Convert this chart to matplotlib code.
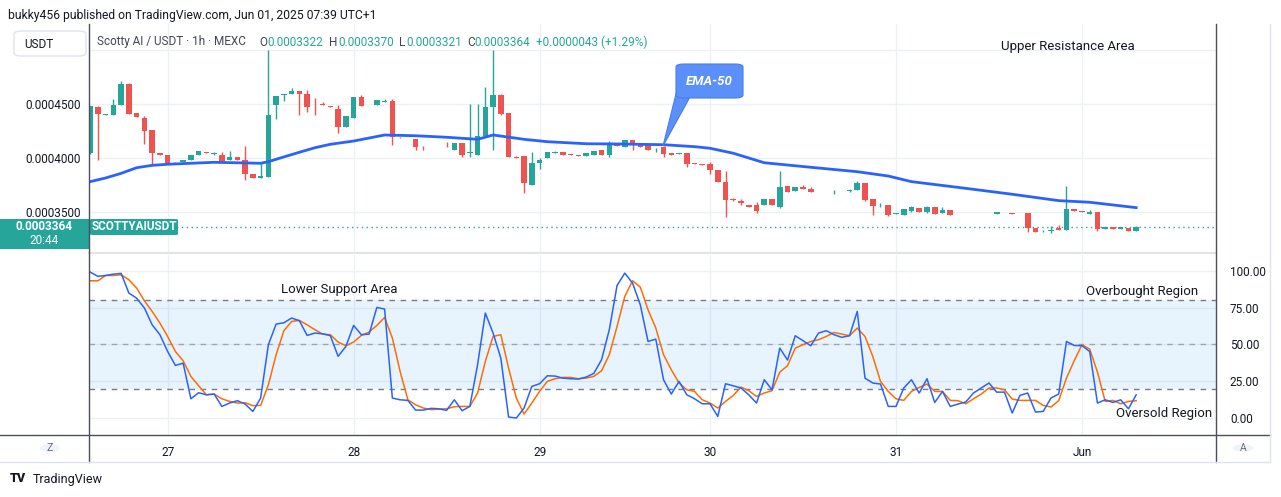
import matplotlib
matplotlib.use('Agg')
import matplotlib.pyplot as plt
from matplotlib.patches import Rectangle, FancyBboxPatch, Polygon, Circle
from matplotlib.lines import Line2D
import numpy as np

plt.rcParams['font.family'] = ['Roboto', 'DejaVu Sans']

# 1h candles, prices in units of 1e-7 USDT
opens = [4046, 4475, 4401, 4395, 4488, 4688, 4420, 4373, 4262, 4049,
         4031, 3944, 3960, 3985, 4025, 4056, 4040, 4031, 3978, 4012,
         3985, 3855, 3815, 3821, 4488, 4583, 4596, 4623, 4596, 4512,
         4500, 4485, 4457, 4290, 4370, 4568, 4497, 4494, 4515, 4531,
         4188, 4188, 4176, 4102, 4099, 4099, 4102, 4077, 4142, 4046,
         4031, 4207, 4469, 4586, 4420, 4006, 4021, 3753, 3950, 4000,
         4049, 4052, 4034, 4031, 4018, 4031, 4077, 4031, 4117, 4102,
         4170, 4133, 4123, 4090, 4099, 4049, 4034, 4049, 3951, 3941,
         3941, 3886, 3781, 3617, 3605, 3565, 3568, 3568, 3623, 3543,
         3744, 3691, 3735, 3716, 3691, 3701, 3701, 3704, 3698, 3701,
         3772, 3623, 3565, 3568, 3485, 3475, 3512, 3537, 3500, 3549,
         3488, 3521, 3488, 3488, 3491, 3485, 3485, 3478, 3488, 3491,
         3488, 3494, 3355, 3315, 3327, 3349, 3330, 3531, 3512, 3478,
         3503, 3340, 3358, 3346, 3355, 3322]
highs = [4480, 4478, 4410, 4546, 4710, 4690, 4420, 4392, 4262, 4049,
         4031, 3963, 3985, 4031, 4068, 4056, 4056, 4056, 4062, 4012,
         4108, 3855, 3954, 5000, 4577, 4596, 4648, 4623, 4632, 4555,
         4518, 4485, 4494, 4392, 4568, 4586, 4500, 4540, 4549, 4549,
         4194, 4188, 4176, 4114, 4102, 4102, 4148, 4142, 4142, 4500,
         4500, 4660, 5003, 4592, 4420, 4015, 4021, 4052, 4000, 4056,
         4068, 4052, 4034, 4031, 4049, 4068, 4077, 4160, 4120, 4170,
         4170, 4133, 4133, 4093, 4108, 4049, 4049, 4049, 3951, 3941,
         3960, 3886, 3877, 3633, 3620, 3565, 3596, 3623, 3623, 3877,
         3744, 3735, 3753, 3735, 3694, 3704, 3704, 3704, 3710, 3790,
         3772, 3623, 3583, 3568, 3488, 3531, 3559, 3537, 3559, 3549,
         3549, 3521, 3491, 3491, 3491, 3485, 3485, 3497, 3491, 3491,
         3491, 3494, 3355, 3333, 3367, 3380, 3738, 3531, 3512, 3515,
         3503, 3358, 3358, 3358, 3355, 3370]
lows = [4040, 3985, 4398, 4395, 4488, 4411, 4377, 4133, 3932, 4025,
        3944, 3941, 3960, 3985, 4025, 4043, 4031, 3963, 3978, 3978,
        3800, 3815, 3815, 3821, 4364, 4525, 4596, 4395, 4423, 4395,
        4488, 4469, 4228, 4290, 4370, 4485, 4497, 4494, 4515, 4124,
        4185, 4185, 4077, 4071, 4099, 4099, 4099, 4077, 4012, 4006,
        4031, 4207, 4077, 4395, 4006, 4000, 3673, 3747, 3901, 4000,
        4049, 4025, 4031, 4015, 4018, 4031, 4025, 4006, 4111, 4102,
        4077, 4099, 4077, 4056, 4009, 4025, 4034, 3914, 3945, 3935,
        3855, 3775, 3451, 3599, 3568, 3549, 3488, 3568, 3562, 3534,
        3682, 3691, 3710, 3688, 3691, 3701, 3667, 3701, 3688, 3701,
        3605, 3475, 3543, 3460, 3485, 3475, 3497, 3503, 3494, 3485,
        3488, 3475, 3488, 3488, 3488, 3482, 3482, 3478, 3488, 3478,
        3488, 3312, 3312, 3315, 3306, 3330, 3330, 3506, 3503, 3478,
        3324, 3340, 3340, 3346, 3321, 3321]
closes = [4478, 4407, 4407, 4494, 4688, 4411, 4377, 4253, 4043, 4025,
          3944, 3957, 3985, 4031, 4062, 4043, 4046, 3975, 4012, 3978,
          3852, 3815, 3836, 4401, 4577, 4590, 4623, 4596, 4469, 4506,
          4488, 4469, 4290, 4392, 4568, 4485, 4500, 4540, 4531, 4191,
          4185, 4185, 4099, 4099, 4102, 4102, 4099, 4142, 4031, 4052,
          4207, 4475, 4586, 4411, 4006, 4000, 3765, 3957, 3985, 4056,
          4052, 4025, 4031, 4015, 4043, 4068, 4025, 4130, 4111, 4164,
          4123, 4099, 4077, 4093, 4040, 4025, 4049, 3941, 3945, 3935,
          3886, 3775, 3608, 3611, 3580, 3549, 3506, 3623, 3562, 3735,
          3682, 3735, 3710, 3688, 3694, 3704, 3704, 3701, 3701, 3772,
          3614, 3559, 3568, 3475, 3488, 3531, 3549, 3503, 3549, 3485,
          3518, 3475, 3491, 3491, 3488, 3482, 3482, 3497, 3491, 3478,
          3491, 3352, 3312, 3318, 3330, 3330, 3531, 3506, 3503, 3497,
          3340, 3358, 3340, 3358, 3321, 3364]

# EMA-50 read at selected bars (1e-7 USDT)
ema_bars = [0, 2, 4, 6, 8, 10, 16, 22, 23, 25, 27, 29, 31, 34, 38, 42, 46, 50, 52, 56,
            59, 64, 68, 74, 78, 80, 83, 87, 93, 99, 103, 106, 113, 119, 125, 129, 135]
ema_vals = [3781, 3815, 3858, 3910, 3932, 3942, 3960, 3951, 3966, 4010, 4053, 4095,
            4127, 4157, 4213, 4206, 4192, 4173, 4213, 4173, 4151, 4132, 4130, 4123,
            4105, 4090, 4044, 3956, 3914, 3873, 3833, 3781, 3719, 3664, 3605, 3590, 3540]

# Stochastic RSI %K and %D
stoch_k = [99.1, 96.2, 96.8, 97.7, 98.2, 84.8, 81.4, 74.7, 63.3, 56.6,
           45.2, 35.7, 37.3, 13.1, 17.2, 15.8, 16.3, 7.9, 10.2, 11.8,
           9.5, 4.5, 13.6, 49.8, 63.8, 64.7, 67.9, 66.1, 56.1, 57.7,
           57.2, 55.9, 41.9, 48.6, 62.9, 56.6, 57.0, 75.1, 74.0, 13.6,
           12.4, 12.0, 5.4, 5.4, 6.6, 6.3, 5.2, 12.4, 5.0, 7.9,
           36.2, 71.3, 57.7, 40.7, 0.7, 0.0, 6.8, 21.5, 23.3, 28.7,
           28.5, 27.1, 26.7, 26.5, 27.8, 30.3, 39.6, 60.0, 90.0, 98.4,
           91.6, 76.9, 52.0, 53.6, 26.0, 16.3, 24.9, 15.8, 13.1, 9.7,
           9.7, 1.1, 23.3, 21.9, 20.4, 15.8, 10.2, 26.0, 19.2, 47.5,
           39.4, 55.9, 52.5, 49.1, 57.7, 59.3, 56.6, 54.8, 55.9, 72.4,
           27.1, 23.8, 23.1, 7.9, 7.9, 20.4, 26.0, 17.0, 26.7, 10.6,
           18.1, 7.9, 9.5, 10.9, 17.0, 20.4, 23.8, 17.6, 17.6, 3.4,
           15.4, 17.0, 4.1, 4.5, 13.6, 16.3, 52.0, 49.3, 49.1, 45.2,
           10.2, 12.4, 10.6, 12.4, 6.3, 15.8]
stoch_d = [93.2, 93.2, 96.8, 96.8, 97.3, 93.9, 88.2, 79.6, 72.4, 64.5,
           55.4, 45.2, 38.9, 28.3, 21.9, 15.8, 16.3, 13.1, 11.3, 10.2,
           10.4, 8.4, 8.6, 22.6, 43.0, 59.3, 65.6, 66.3, 63.3, 60.0,
           57.0, 56.6, 51.6, 49.1, 51.6, 56.1, 58.4, 62.9, 68.3, 54.3,
           31.7, 12.4, 9.0, 6.8, 5.7, 6.1, 6.3, 7.7, 7.9, 7.9,
           17.0, 38.5, 55.4, 56.6, 33.9, 13.6, 2.7, 10.2, 18.1, 24.9,
           26.7, 27.6, 27.6, 26.7, 27.1, 28.3, 32.1, 43.0, 62.2, 82.6,
           93.2, 88.9, 73.5, 61.1, 43.0, 32.8, 23.8, 19.2, 18.1, 12.4,
           10.2, 6.8, 11.3, 15.4, 21.0, 18.6, 14.7, 17.0, 18.6, 31.2,
           35.5, 47.5, 49.8, 52.0, 53.2, 55.4, 58.1, 57.0, 55.9, 61.1,
           55.4, 41.9, 24.9, 18.1, 13.1, 12.0, 18.1, 20.8, 23.1, 18.1,
           18.1, 12.0, 11.8, 9.7, 13.1, 16.3, 20.4, 20.4, 19.2, 12.9,
           12.0, 12.0, 12.0, 8.6, 7.5, 11.8, 27.1, 38.9, 49.8, 46.8,
           31.2, 11.3, 12.0, 9.7, 11.3, 11.8]

day_bars = [10, 34, 58, 80, 104, 128]
day_labels = ['27', '28', '29', '30', '31', 'Jun']
price_ticks = [3500, 4000, 4500, 5000]
osc_ticks = [0, 25, 50, 75, 100]
last_price = 3364

UP = '#26a69a'
DOWN = '#ef5350'
GRID = '#edf0f4'
TXT = '#131722'
DARK = '#4a4e58'
LIGHT = '#e0e3eb'

W, H = 1281, 497
fig = plt.figure(figsize=(W / 100, H / 100), dpi=100)
fig.patch.set_facecolor('white')


def rect(x0, y0, x1, y1):
    return [x0 / W, 1 - y1 / H, (x1 - x0) / W, (y1 - y0) / H]


def fx(x):
    return x / W


def fy(y):
    return 1 - y / H


ax = fig.add_axes(rect(89, 24, 1216, 253))
ax2 = fig.add_axes(rect(89, 255, 1216, 435), sharex=ax)

o = np.array(opens) * 1e-7
h = np.array(highs) * 1e-7
l = np.array(lows) * 1e-7
c = np.array(closes) * 1e-7
x = np.arange(len(o))
cols = np.where(c >= o, UP, DOWN)

# price pane
for b in day_bars:
    ax.axvline(b, color=GRID, lw=1, zorder=0)
for p in price_ticks:
    ax.axhline(p * 1e-7, color=GRID, lw=1, zorder=0)
ax.vlines(x, l, h, colors=cols, lw=1.0, zorder=2)
ax.bar(x, np.maximum(np.abs(c - o), 1.9e-7), bottom=np.minimum(o, c),
       width=0.72, color=cols, linewidth=0, zorder=3)
ax.plot(ema_bars, np.array(ema_vals) * 1e-7, color='#2962ff', lw=2.0, zorder=4)
ax.axhline(last_price * 1e-7, color=UP, lw=1, ls=(0, (1, 2.5)), zorder=1)

ax.set_xlim(-0.15, 145.3)
ax.set_ylim(0.0003120, 0.0005241)
ax.set_yticks([p * 1e-7 for p in price_ticks])
ax.set_yticklabels([f'{p * 1e-7:.7f}' if p < 5000 else '' for p in price_ticks])
ax.tick_params(axis='y', length=0, pad=6, labelsize=8.5, labelcolor=TXT)
ax.tick_params(axis='x', length=0, labelbottom=False)
for s in ['top', 'right', 'left']:
    ax.spines[s].set_visible(False)
ax.spines['bottom'].set_color(LIGHT)
ax.spines['bottom'].set_linewidth(1.5)

ax.text(0.8687, 0.8996, 'Upper Resistance Area', transform=ax.transAxes,
        ha='center', va='center', fontsize=9.5, color=TXT)

# oscillator pane
for b in day_bars:
    ax2.axvline(b, color=GRID, lw=1, zorder=0)
for t in osc_ticks:
    ax2.axhline(t, color=GRID, lw=1, zorder=0)
ax2.axhspan(20, 80, color='#2196f3', alpha=0.1, lw=0, zorder=0)
ax2.axhline(80, color='#787b86', lw=1, ls=(0, (4, 4)), zorder=1)
ax2.axhline(20, color='#787b86', lw=1, ls=(0, (4, 4)), zorder=1)
ax2.axhline(50, color='#787b86', lw=1, ls=(0, (4, 4)), alpha=0.6, zorder=1)
ax2.plot(x, stoch_d, color='#ff6d00', lw=1.1, zorder=3)
ax2.plot(x, stoch_k, color='#2962ff', lw=1.1, zorder=4)
ax2.set_ylim(-11.5, 110.7)
ax2.yaxis.tick_right()
ax2.set_yticks(osc_ticks)
ax2.set_yticklabels([f'{t:.2f}' for t in osc_ticks])
ax2.tick_params(axis='y', length=0, pad=10, labelsize=8.5, labelcolor=TXT)
ax2.set_xticks(day_bars)
ax2.set_xticklabels(day_labels)
ax2.tick_params(axis='x', length=0, pad=8, labelsize=8.5, labelcolor=TXT)
for s in ax2.spines.values():
    s.set_visible(False)

ax2.text(0.2218, 0.811, 'Lower Support Area', transform=ax2.transAxes,
         ha='center', va='center', fontsize=9.5, color=TXT)
ax2.text(0.934, 0.80, 'Overbought Region', transform=ax2.transAxes,
         ha='center', va='center', fontsize=9.5, color=TXT)
ax2.text(0.954, 0.117, 'Oversold Region', transform=ax2.transAxes,
         ha='center', va='center', fontsize=9.5, color=TXT)

# frame lines
tf = fig.transFigure
fig.add_artist(Line2D([fx(89), fx(89)], [fy(24), fy(462)], color=DARK, lw=1, transform=tf))
fig.add_artist(Line2D([fx(1216), fx(1216)], [fy(24), fy(462)], color=DARK, lw=1, transform=tf))
fig.add_artist(Line2D([fx(0), fx(1270)], [fy(435), fy(435)], color=DARK, lw=1, transform=tf))
fig.add_artist(Line2D([fx(0), fx(1270)], [fy(462), fy(462)], color=LIGHT, lw=1, transform=tf))
fig.add_artist(Line2D([fx(1270), fx(1270)], [fy(24), fy(462)], color=LIGHT, lw=1, transform=tf))

# header
fig.text(fx(8), fy(15), 'bukky456 published on TradingView.com, Jun 01, 2025 07:39 UTC+1',
         ha='left', va='center', fontsize=8.7, color=TXT)
fig.text(fx(97), fy(42), 'Scotty AI / USDT \u00b7 1h \u00b7 MEXC', ha='left', va='center',
         fontsize=8.5, color='#434651')
hdr = [(259, 'O', '#434651'), (267, '0.0003322', UP), (329, 'H', '#434651'),
       (338, '0.0003370', UP), (399, 'L', '#434651'), (406, '0.0003321', UP),
       (467, 'C', '#434651'), (474, '0.0003364', UP), (536, '+0.0000043 (+1.29%)', UP)]
for xp, s, col in hdr:
    fig.text(fx(xp), fy(42), s, ha='left', va='center', fontsize=8.5, color=col)

fig.add_artist(FancyBboxPatch((fx(14), fy(56)), fx(86) - fx(14), fy(31) - fy(56),
                              boxstyle='round,pad=0,rounding_size=0.006', fc='white',
                              ec=LIGHT, lw=1, transform=tf))
fig.text(fx(24), fy(44), 'USDT', ha='left', va='center', fontsize=8.5, color=TXT)

# last price tags
fig.add_artist(Rectangle((fx(0), fy(249)), fx(89), fy(219) - fy(249), fc=UP, ec='none', transform=tf))
fig.text(fx(44), fy(227), '0.0003364', ha='center', va='center', fontsize=8.5,
         color='white', fontweight='bold')
fig.text(fx(44), fy(241), '20:44', ha='center', va='center', fontsize=8.5, color='white')
fig.add_artist(FancyBboxPatch((fx(90), fy(235)), fx(178) - fx(90), fy(219) - fy(235),
                              boxstyle='round,pad=0,rounding_size=0.002', fc=UP, ec='none',
                              transform=tf))
fig.text(fx(134), fy(227), 'SCOTTYAIUSDT', ha='center', va='center', fontsize=8.5,
         color='white', fontweight='bold')

# EMA-50 callout
fig.add_artist(Polygon([(fx(677), fy(90)), (fx(690), fy(97)), (fx(663), fy(146))],
                       closed=True, fc='#5b8ff9', ec='#4a7de8', lw=0.8, transform=tf))
fig.add_artist(FancyBboxPatch((fx(676), fy(98)), fx(743) - fx(676), fy(64) - fy(98),
                              boxstyle='round,pad=0,rounding_size=0.006', fc='#5b8ff9',
                              ec='#4a7de8', lw=0.8, transform=tf))
fig.text(fx(709.5), fy(81), 'EMA-50', ha='center', va='center', fontsize=9.5,
         color='white', fontweight='bold', fontstyle='italic')

# time axis buttons
for cx, s in [(50, 'Z'), (1243, 'A')]:
    fig.add_artist(Circle((fx(cx), fy(448)), 10 / W, fc='#f0f3fa', ec='none', transform=tf))
    fig.text(fx(cx), fy(448), s, ha='center', va='center', fontsize=7.5, color='#6a6d78')

# footer
fig.text(fx(10), fy(479), 'TV', ha='left', va='center', fontsize=9, color=TXT, fontweight='heavy')
fig.text(fx(33), fy(479), 'TradingView', ha='left', va='center', fontsize=9, color=TXT)

fig.savefig('out.png', dpi=100)
